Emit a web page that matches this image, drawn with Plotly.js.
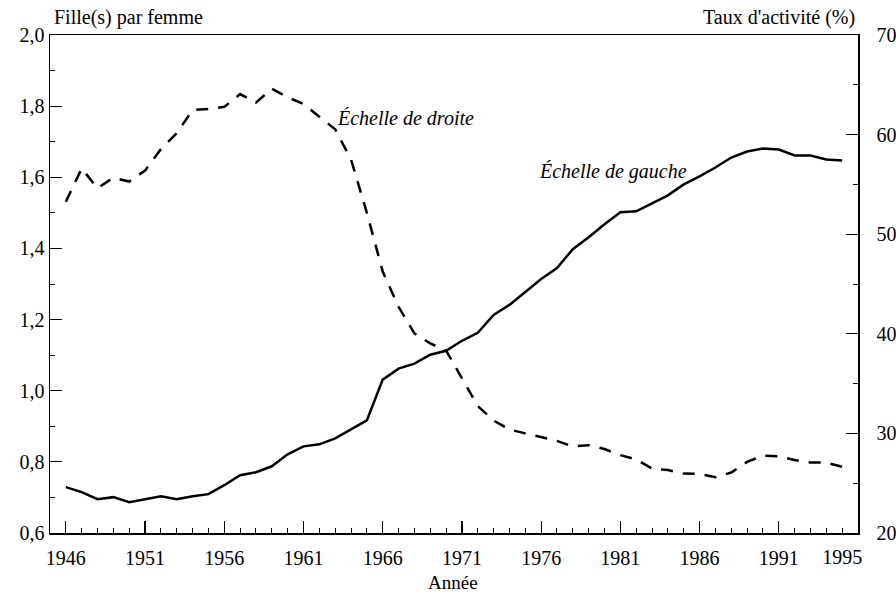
<!DOCTYPE html>
<html>
<head>
<meta charset="utf-8">
<script src="https://cdn.plot.ly/plotly-3.0.1.min.js"></script>
<style>html,body{margin:0;padding:0;background:#fff;}#chart{width:896px;height:600px;}</style>
</head>
<body>
<div id="chart"></div>
<script>
// Years
const years = [1946,1947,1948,1949,1950,1951,1952,1953,1954,1955,1956,1957,1958,1959,1960,
  1961,1962,1963,1964,1965,1966,1967,1968,1969,1970,1971,1972,1973,1974,1975,1976,1977,1978,
  1979,1980,1981,1982,1983,1984,1985,1986,1987,1988,1989,1990,1991,1992,1993,1994,1995];

// Dashed series: daughters per woman (left scale, 0.6–2.0)
const fillesParFemme = [1.531,1.625,1.569,1.599,1.588,1.619,1.679,1.724,1.789,1.792,1.798,1.834,1.810,1.849,1.825,
  1.806,1.770,1.735,1.650,1.500,1.335,1.236,1.161,1.133,1.113,1.035,0.957,0.916,0.891,0.880,0.869,0.859,0.843,
  0.847,0.836,0.819,0.807,0.781,0.777,0.767,0.766,0.757,0.770,0.800,0.817,0.816,0.805,0.798,0.798,0.786];

// Solid series: activity rate in % (right scale, 20–70)
const tauxActivite = [24.6,24.1,23.4,23.6,23.1,23.4,23.7,23.4,23.7,23.9,24.8,25.8,26.1,26.7,27.9,
  28.7,28.9,29.5,30.4,31.3,35.4,36.5,37.0,37.9,38.3,39.3,40.1,41.9,42.9,44.2,45.5,46.6,48.5,
  49.7,51.0,52.2,52.3,53.1,53.9,55.0,55.8,56.7,57.7,58.3,58.6,58.5,57.9,57.9,57.5,57.4];

const majorYears = [1946,1951,1956,1961,1966,1971,1976,1981,1986,1991];
const lastYearLabel = [1995];

const FONT = 'Liberation Serif, Times New Roman, serif';

const traces = [
  {x: years, y: fillesParFemme, type:'scatter', mode:'lines', xaxis:'x', yaxis:'y',
   line:{color:'#000', width:2.5, dash:'12px,10px'}, hoverinfo:'skip', showlegend:false},
  {x: years, y: tauxActivite, type:'scatter', mode:'lines', xaxis:'x', yaxis:'y2',
   line:{color:'#000', width:2.5}, hoverinfo:'skip', showlegend:false},
  // invisible helper so the secondary x axis (1995 label) is drawn
  {x: lastYearLabel, y: [fillesParFemme[fillesParFemme.length-1]], type:'scatter', mode:'markers',
   xaxis:'x2', yaxis:'y', marker:{opacity:0, size:1}, hoverinfo:'skip', showlegend:false}
];

const layout = {
  width: 896, height: 600,
  margin: {l:50, r:38, t:35, b:67},
  paper_bgcolor:'#fff', plot_bgcolor:'#fff',
  separators: ', ',
  font: {family: FONT, size: 20, color:'#000'},
  showlegend: false,
  xaxis: {
    range:[1945,1996], tickmode:'array', tickvals: majorYears, ticktext: majorYears.map(String),
    ticks:'inside', ticklen:12, tickwidth:1.2, tickcolor:'#000',
    showline:true, linecolor:'#000', linewidth:1.5, mirror:true,
    showgrid:false, zeroline:false, ticklabelstandoff:6,
    minor:{dtick:1, tick0:1945, ticks:'inside', ticklen:5, tickwidth:1, tickcolor:'#000', showgrid:false},
    tickfont:{family:FONT, size:20, color:'#000'}
  },
  xaxis2: {
    range:[1945,1996], overlaying:'x', anchor:'y', side:'bottom', tickmode:'array',
    tickvals:lastYearLabel, ticktext:lastYearLabel.map(String),
    ticks:'inside', ticklen:5, tickwidth:1, tickcolor:'#000', showline:false, showgrid:false,
    zeroline:false, ticklabelstandoff:10, tickfont:{family:FONT, size:20, color:'#000'}
  },
  yaxis: {
    range:[0.6,2.0], dtick:0.2, tick0:0.6, tickformat:'.1f',
    ticks:'inside', ticklen:12, tickwidth:1.2, tickcolor:'#000',
    showline:true, linecolor:'#000', linewidth:1.5,
    showgrid:false, zeroline:false,
    minor:{dtick:0.1, ticks:'inside', ticklen:5, tickwidth:1, tickcolor:'#000', showgrid:false},
    tickfont:{family:FONT, size:20, color:'#000'}
  },
  yaxis2: {
    range:[20,70], dtick:10, tick0:20, overlaying:'y', side:'right', anchor:'x',
    ticks:'inside', ticklen:12, tickwidth:1.2, tickcolor:'#000',
    showline:true, linecolor:'#000', linewidth:1.5,
    showgrid:false, zeroline:false, ticklabelstandoff:13,
    minor:{dtick:5, ticks:'inside', ticklen:5, tickwidth:1, tickcolor:'#000', showgrid:false},
    tickfont:{family:FONT, size:20, color:'#000'}
  },
  annotations: [
    {text:'Fille(s) par femme', xref:'paper', yref:'paper', x:0.0025, y:1.036, xanchor:'left', yanchor:'middle',
     showarrow:false, font:{family:FONT, size:20, color:'#000'}},
    {text:"Taux d'activité (%)", xref:'paper', yref:'paper', x:0.9988, y:1.036, xanchor:'right', yanchor:'middle',
     showarrow:false, font:{family:FONT, size:20, color:'#000'}},
    {text:'Année', xref:'paper', yref:'paper', x:0.499, y:-0.100, xanchor:'center', yanchor:'middle',
     showarrow:false, font:{family:FONT, size:19, color:'#000'}},
    {text:'<i>Échelle de droite</i>', xref:'x', yref:'y', x:1963.0, y:1.767, xanchor:'left', yanchor:'middle',
     showarrow:false, font:{family:FONT, size:20, color:'#000'}},
    {text:'<i>Échelle de gauche</i>', xref:'x', yref:'y', x:1975.74, y:1.615, xanchor:'left', yanchor:'middle',
     showarrow:false, font:{family:FONT, size:20, color:'#000'}}
  ]
};

Plotly.newPlot('chart', traces, layout, {staticPlot:true, displayModeBar:false});
</script>
</body>
</html>
